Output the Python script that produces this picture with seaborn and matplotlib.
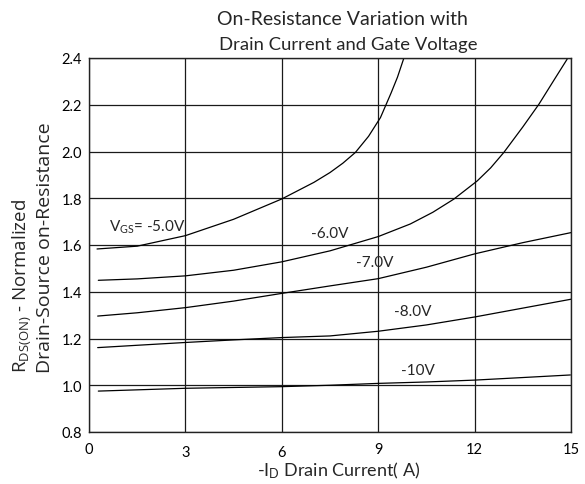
import numpy as np
import pandas as pd
import matplotlib
matplotlib.use("Agg")
import matplotlib.pyplot as plt
import matplotlib.transforms as mtransforms
import seaborn as sns

# ---------------- data ----------------
vgs_names = ["-5.0V", "-6.0V", "-7.0V", "-8.0V", "-10V"]

id_m5 = [0.25, 1.5, 3.0, 4.5, 6.0, 7.0, 7.5, 7.9, 8.29, 8.7, 9.07, 9.4, 9.6, 9.8]
r_m5 = [1.583, 1.595, 1.640, 1.710, 1.797, 1.868, 1.910, 1.950, 1.996, 2.065,
        2.145, 2.250, 2.318, 2.400]

id_m6 = [0.29, 1.5, 3.0, 4.5, 6.0, 7.5, 9.0, 10.0, 10.7, 11.35, 12.08, 12.5,
         12.91, 13.5, 14.0, 14.5, 14.88]
r_m6 = [1.449, 1.455, 1.468, 1.492, 1.528, 1.575, 1.636, 1.690, 1.740, 1.796,
        1.874, 1.930, 1.996, 2.105, 2.202, 2.312, 2.395]

id_m7 = [0.27, 1.5, 3.0, 4.5, 6.0, 7.5, 9.0, 10.5, 12.0, 13.5, 15.0]
r_m7 = [1.296, 1.310, 1.332, 1.360, 1.393, 1.425, 1.456, 1.505, 1.562, 1.610, 1.653]

id_m8 = [0.27, 1.5, 3.0, 4.5, 6.0, 7.5, 9.0, 10.5, 12.0, 13.5, 15.0]
r_m8 = [1.161, 1.171, 1.183, 1.194, 1.204, 1.211, 1.231, 1.258, 1.292, 1.330, 1.368]

id_m10 = [0.29, 3.0, 6.0, 7.5, 9.0, 10.5, 12.0, 13.5, 14.98]
r_m10 = [0.975, 0.987, 0.994, 1.000, 1.008, 1.014, 1.022, 1.033, 1.044]

x_ticks = [0, 3, 6, 9, 12, 15]
x_ticklabels = ["0", "3", "6", "9", "12", "15"]
y_ticks = [0.8, 1.0, 1.2, 1.4, 1.6, 1.8, 2.0, 2.2, 2.4]
y_ticklabels = ["0.8", "1.0", "1.2", "1.4", "1.6", "1.8", "2.0", "2.2", "2.4"]

series_x = [id_m5, id_m6, id_m7, id_m8, id_m10]
series_y = [r_m5, r_m6, r_m7, r_m8, r_m10]
frames = []
for name, xs, ys in zip(vgs_names, series_x, series_y):
    frames.append(pd.DataFrame({"id": xs, "r": ys, "vgs": name}))
df = pd.concat(frames, ignore_index=True)

# ---------------- style ----------------
sns.set_theme(style="white")
narrow = ["Lato", "DejaVu Sans"]
plt.rcParams["font.family"] = ["Lato", "DejaVu Sans"]
plt.rcParams["mathtext.default"] = "regular"

W, H = 585, 485
fig = plt.figure(figsize=(W / 100, H / 100), dpi=100)
fig.patch.set_facecolor("white")
L, R, T, B = 89, 571, 59, 433
ax = fig.add_axes([L / W, 1 - B / H, (R - L) / W, (B - T) / H])

sns.lineplot(data=df, x="id", y="r", hue="vgs", hue_order=vgs_names,
             palette=["black"] * len(vgs_names), estimator=None, sort=False,
             legend=False, linewidth=0.9, ax=ax)

ax.set_xlim(0, 15)
ax.set_ylim(0.8, 2.4)
ax.set_xticks(x_ticks)
ax.set_xticklabels(x_ticklabels)
ax.set_yticks(y_ticks)
ax.set_yticklabels(y_ticklabels)
ax.set_xlabel("")
ax.set_ylabel("")
ax.grid(True, color="#1a1a1a", linewidth=0.9)
ax.set_axisbelow(True)
for sp in ax.spines.values():
    sp.set_color("#222222")
    sp.set_linewidth(1.0)
    sp.set_visible(True)
ax.tick_params(axis="both", length=0, labelsize=10.5, colors="black")
ax.tick_params(axis="x", pad=7)
ax.tick_params(axis="y", pad=5)

# lower the "3" and "6" labels as in the reference
xlabels = ax.get_xticklabels()
for idx in (1, 2):
    lab = xlabels[idx]
    lab.set_transform(lab.get_transform() +
                      mtransforms.ScaledTranslation(0, -3 / 100, fig.dpi_scale_trans))

# ---------------- curve labels ----------------
ann_fs = 11
ax.text(1.81, 1.681, "V$_{GS}$= -5.0V", ha="center", va="center",
        fontsize=ann_fs, family=narrow)
ax.text(7.5, 1.653, "-6.0V", ha="center", va="center", fontsize=ann_fs, family=narrow)
ax.text(8.88, 1.529, "-7.0V", ha="center", va="center", fontsize=ann_fs, family=narrow)
ax.text(10.09, 1.318, "-8.0V", ha="center", va="center", fontsize=ann_fs, family=narrow)
ax.text(10.25, 1.065, "-10V", ha="center", va="center", fontsize=ann_fs, family=narrow)

# ---------------- titles / axis labels ----------------
fig.text(217 / W, 1 - 25 / H, "On-Resistance Variation with", ha="left",
         va="baseline", fontsize=14, family=narrow)
fig.text(219 / W, 1 - 50 / H, "Drain Current and Gate Voltage", ha="left",
         va="baseline", fontsize=13.3, family=narrow)
fig.text(257 / W, 1 - 476 / H, "-I$_{D}$ Drain Current( A)", ha="left",
         va="baseline", fontsize=13, family=narrow)

ylab_font = ["Open Sans", "DejaVu Sans"]
fig.text(22 / W, 1 - 373 / H, "R$_{DS(ON)}$ - Normalized", rotation=90,
         ha="center", va="bottom", fontsize=13.5, family=ylab_font)
fig.text(45 / W, 1 - 373 / H, "Drain-Source on-Resistance", rotation=90,
         ha="center", va="bottom", fontsize=14, family=ylab_font)

fig.savefig("out.png", dpi=100, facecolor="white")
